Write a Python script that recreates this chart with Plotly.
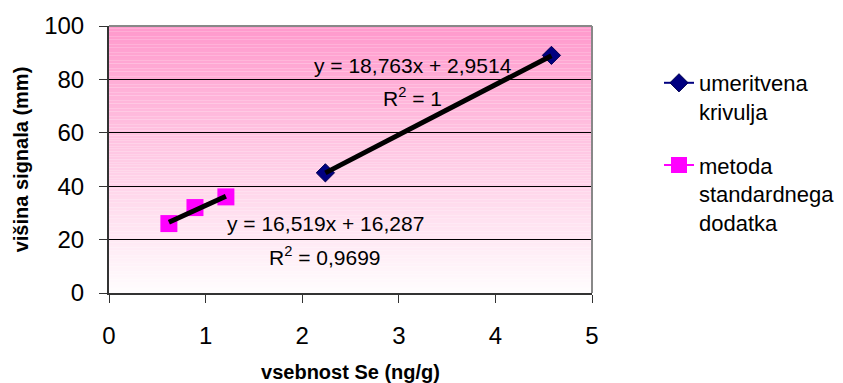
import plotly.graph_objects as go

# Calibration series (umeritvena krivulja)
cal_x = [2.24, 4.58]
cal_y = [45, 89]
cal_fit = (18.763, 2.9514)
cal_r2 = "1"

# Standard addition series (metoda standardnega dodatka)
add_x = [0.62, 0.89, 1.21]
add_y = [26, 32, 36]
add_fit = (16.519, 16.287)
add_r2 = "0,9699"

x_ticks = [0, 1, 2, 3, 4, 5]
y_ticks = [0, 20, 40, 60, 80, 100]

FONT = "Liberation Sans, Arial, sans-serif"


def fmt(v):
    return str(v).replace(".", ",")


def trend(xs, fit):
    a, b = fit
    x0, x1 = min(xs), max(xs)
    return [x0, x1], [a * x0 + b, a * x1 + b]


fig = go.Figure()

fig.add_trace(go.Scatter(
    x=cal_x, y=cal_y, mode="lines+markers", name="umeritvena<br>krivulja",
    legendgroup="cal",
    line=dict(color="#000080", width=2),
    marker=dict(symbol="diamond", size=14, color="#000080",
                line=dict(color="#000050", width=1)),
))
fig.add_trace(go.Scatter(
    x=add_x, y=add_y, mode="lines+markers", name="metoda<br>standardnega<br>dodatka",
    legendgroup="add",
    line=dict(color="#FF00FF", width=2),
    marker=dict(symbol="square", size=17, color="#FF00FF"),
))

# Linear trendlines over each series' x range
for xs, fit, grp in ((cal_x, cal_fit, "cal"), (add_x, add_fit, "add")):
    tx, ty = trend(xs, fit)
    fig.add_trace(go.Scatter(x=tx, y=ty, mode="lines", showlegend=False, legendgroup=grp,
                             line=dict(color="black", width=5), hoverinfo="skip"))

# Vertical gradient for the plot background (pink at top fading to white)
shapes = []
n = 100
top = (255, 153, 204)
bot = (255, 253, 254)
for i in range(n):
    t = (i + 0.5) / n
    c = tuple(round(bot[k] + (top[k] - bot[k]) * t) for k in range(3))
    shapes.append(dict(type="rect", xref="x domain", yref="y domain",
                       x0=0, x1=1, y0=i / n, y1=(i + 1) / n, layer="below",
                       line=dict(width=0), fillcolor="rgb(%d,%d,%d)" % c))
# Grey frame on top and right
shapes.append(dict(type="line", xref="x domain", yref="y domain", x0=0, x1=1,
                   y0=1, y1=1, line=dict(color="#888888", width=2)))
shapes.append(dict(type="line", xref="x domain", yref="y domain", x0=1, x1=1,
                   y0=0, y1=1, line=dict(color="#888888", width=2)))

ann_font = dict(family=FONT, size=21, color="black")
annotations = [
    dict(x=413, y=65, text="y = %sx + %s" % (fmt(cal_fit[0]), fmt(cal_fit[1]))),
    dict(x=412, y=97, text="R<sup>2</sup> = %s" % cal_r2),
    dict(x=325, y=223, text="y = %sx + %s" % (fmt(add_fit[0]), fmt(add_fit[1]))),
    dict(x=325, y=256, text="R<sup>2</sup> = %s" % add_r2),
]
L, T, W, H = 109, 26, 483, 267
VW, VH = 843, 383
anns = []
for a in annotations:
    anns.append(dict(xref="paper", yref="paper",
                     x=(a["x"] - L) / W, y=1 - (a["y"] - T) / H,
                     text=a["text"], showarrow=False,
                     xanchor="center", yanchor="middle", font=ann_font))

fig.update_layout(
    width=VW, height=VH,
    margin=dict(l=L, r=VW - L - W, t=T, b=VH - T - H, autoexpand=False),
    paper_bgcolor="white", plot_bgcolor="white",
    font=dict(family=FONT, color="black"),
    shapes=shapes, annotations=anns,
    showlegend=True,
    legend=dict(xref="container", yref="container", x=659 / VW, y=1 - 62 / VH,
                xanchor="left", yanchor="top",
                font=dict(family=FONT, size=22), valign="top",
                traceorder="grouped", tracegroupgap=22,
                bgcolor="rgba(0,0,0,0)"),
)
fig.update_xaxes(
    range=[0, 5], tickvals=x_ticks, ticktext=[str(v) for v in x_ticks],
    showgrid=False, zeroline=False, showline=True, linecolor="#333333", linewidth=2,
    ticks="outside", ticklen=8, tickcolor="#333333", tickwidth=1,
    tickfont=dict(family=FONT, size=24), ticklabelstandoff=12, automargin=False,
    title=dict(text="<b>vsebnost Se (ng/g)</b>", font=dict(family=FONT, size=20), standoff=18),
)
fig.update_yaxes(
    range=[0, 100], tickvals=y_ticks, ticktext=[str(v) for v in y_ticks],
    showgrid=True, gridcolor="black", gridwidth=1, zeroline=False,
    showline=True, linecolor="#333333", linewidth=2,
    ticks="outside", ticklen=8, tickcolor="#333333", tickwidth=1,
    tickfont=dict(family=FONT, size=24), ticklabelstandoff=10, automargin=False,
    title=dict(text="<b>višina signala (mm)</b>", font=dict(family=FONT, size=20), standoff=10),
)

fig.write_html("out.html")
